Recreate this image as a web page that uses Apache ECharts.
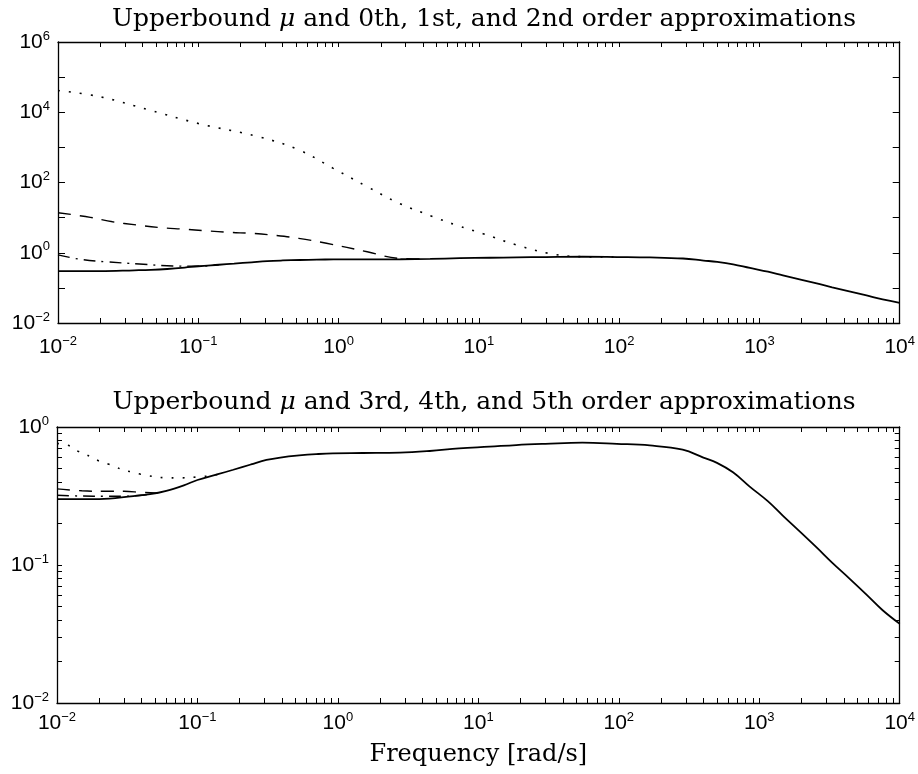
<!DOCTYPE html>
<html>
<head>
<meta charset="utf-8">
<script src="https://cdn.jsdelivr.net/npm/echarts@6.0.0/dist/echarts.min.js"></script>
<style>
  html, body { margin: 0; padding: 0; background: #fff; }
  #chart { width: 918px; height: 774px; }
</style>
</head>
<body>
<div id="chart"></div>
<script>
// ---- axis ticks ----
const freqDecades = [0.01, 0.1, 1, 10, 100, 1000, 10000];
const minorSteps = [2, 3, 4, 5, 6, 7, 8, 9];
const topMagTicks = [1e-2, 1e-1, 1, 1e1, 1e2, 1e3, 1e4, 1e5, 1e6];
const topMagLabels = [1e-2, 1, 1e2, 1e4, 1e6];
const botMagDecades = [0.01, 0.1, 1];

const titleTop = 'Upperbound {i|\u03bc} and 0th, 1st, and 2nd order approximations';
const titleBot = 'Upperbound {i|\u03bc} and 3rd, 4th, and 5th order approximations';
const xName = 'Frequency [rad/s]';

// ---- upper bound mu (solid, both panels) ----
const muFreq = [0.01, 0.02, 0.035, 0.046, 0.06, 0.08, 0.1, 0.14, 0.18, 0.24, 0.31, 0.4, 0.53, 0.7, 0.92,
  1.5, 2.76, 4.5, 7.3, 12, 18.6, 30, 55, 97, 166, 285, 400, 500, 650, 855, 1150, 1470, 2000, 2560,
  3300, 4370, 5800, 7560, 10000];
const muVals = [0.300, 0.300, 0.316, 0.326, 0.345, 0.378, 0.413, 0.455, 0.49, 0.535, 0.577, 0.603, 0.622,
  0.636, 0.645, 0.648, 0.652, 0.67, 0.70, 0.72, 0.74, 0.755, 0.77, 0.755, 0.735, 0.685, 0.6, 0.55,
  0.47, 0.37, 0.29, 0.228, 0.17, 0.134, 0.104, 0.08, 0.061, 0.047, 0.0375];

// ---- 0th, 1st, 2nd order (top) ----
const ord0Freq = [0.01, 0.02, 0.045, 0.1, 0.27, 0.52, 0.91, 1.6, 2.7, 4.7, 7, 10.7, 18.6, 31.6, 50, 97];
const ord0Vals = [41700, 27500, 11500, 4800, 2000, 850, 257, 76, 25.7, 10.7, 6.0, 3.5, 1.66, 0.96, 0.78, 0.755];
const ord1Freq = [0.01, 0.017, 0.0245, 0.036, 0.054, 0.078, 0.115, 0.166, 0.245, 0.36, 0.52, 0.82, 1.6, 2.7, 4];
const ord1Vals = [13.8, 10.2, 7.6, 6.2, 5.2, 4.7, 4.2, 3.8, 3.55, 3.1, 2.57, 1.86, 1.07, 0.69, 0.665];
const ord2Freq = [0.01, 0.0144, 0.0224, 0.038, 0.066, 0.1, 0.14];
const ord2Vals = [0.87, 0.65, 0.55, 0.48, 0.42, 0.415, 0.455];

// ---- 3rd, 4th, 5th order (bottom) ----
const ord3Freq = [0.01, 0.0124, 0.0139, 0.0158, 0.0178, 0.0202, 0.0231, 0.0263, 0.0295, 0.0342, 0.039,
  0.0445, 0.0515, 0.0587, 0.075, 0.104, 0.13, 0.16];
const ord3Vals = [0.76, 0.728, 0.673, 0.637, 0.60, 0.564, 0.54, 0.513, 0.488, 0.472, 0.456, 0.444, 0.434,
  0.429, 0.428, 0.436, 0.447, 0.47];
const ord4Freq = [0.01, 0.015, 0.022, 0.03, 0.04, 0.05, 0.06];
const ord4Vals = [0.356, 0.345, 0.342, 0.342, 0.336, 0.333, 0.345];
const ord5Freq = [0.01, 0.015, 0.022, 0.03, 0.04, 0.046];
const ord5Vals = [0.32, 0.316, 0.315, 0.315, 0.32, 0.326];

const black = '#000';

function pairs(xs, ys) {
  return xs.map((x, i) => [x, ys[i]]);
}
// decades plus the 2..9 steps inside each decade
function withMinors(decades) {
  const out = decades.slice();
  decades.slice(0, -1).forEach(d => {
    minorSteps.forEach(k => out.push(+(k * d).toPrecision(6)));
  });
  return out.sort((a, b) => a - b);
}
function powLabel(v) {
  const e = Math.round(Math.log10(v));
  return '{b|10}{s|' + (e < 0 ? '\u2212' + (-e) : e) + '}';
}
const labelRich = {
  b: { fontFamily: 'Liberation Sans', fontSize: 21, color: black },
  s: { fontFamily: 'Liberation Sans', fontSize: 13, color: black, padding: [0, 0, 12, 0] }
};

const frameLine = { show: true, onZero: false, lineStyle: { color: black, width: 1.3 } };

// one axis per side of each panel: border line, inward ticks, optional labels
function frameAxis(opt) {
  return Object.assign({
    type: 'log',
    axisLine: frameLine,
    axisLabel: { show: false },
    splitLine: { show: false }
  }, opt);
}
function tickSet(values, len) {
  return { show: true, inside: true, length: len, customValues: values, lineStyle: { color: black } };
}

const xAxis = [];
const yAxis = [];
const xIdx = [];
const yIdx = [];
const xTicks = withMinors(freqDecades);

[0, 1].forEach(g => {
  xIdx.push(xAxis.length);
  xAxis.push(frameAxis({
    gridIndex: g, min: 0.01, max: 10000, position: 'bottom',
    axisTick: tickSet(xTicks, 5),
    axisLabel: { show: true, customValues: freqDecades, formatter: powLabel, rich: labelRich, margin: g ? 8 : 12 },
    name: g ? xName : '',
    nameLocation: 'middle',
    nameGap: 40,
    nameTextStyle: { fontFamily: 'DejaVu Serif', fontSize: 24, color: black }
  }));
  xAxis.push(frameAxis({ gridIndex: g, min: 0.01, max: 10000, position: 'top', axisTick: tickSet(xTicks, 5) }));

  const yMax = g ? 1 : 1e6;
  const yTicks = g ? withMinors(botMagDecades) : topMagTicks;
  const labels = g ? botMagDecades : topMagLabels;
  yIdx.push(yAxis.length);
  yAxis.push(frameAxis({
    gridIndex: g, min: 0.01, max: yMax, position: 'left',
    axisTick: tickSet(yTicks, g ? 5 : 7),
    axisLabel: { show: true, customValues: labels, formatter: powLabel, rich: labelRich, margin: 8 }
  }));
  yAxis.push(frameAxis({ gridIndex: g, min: 0.01, max: yMax, position: 'right', axisTick: tickSet(yTicks, g ? 5 : 7) }));
});

function line(g, xs, ys, type, width, z) {
  return {
    type: 'line',
    xAxisIndex: xIdx[g],
    yAxisIndex: yIdx[g],
    data: pairs(xs, ys),
    symbol: 'none',
    smooth: 0.4,
    silent: true,
    z: z,
    lineStyle: { color: black, width: width, type: type }
  };
}
const dotted = [2, 9];
const dashed = [13, 9];
const dashDot = [12, 6, 2, 6];

const titleStyle = {
  fontFamily: 'DejaVu Serif', fontSize: 25, fontWeight: 'normal', color: black,
  rich: { i: { fontFamily: 'DejaVu Serif', fontSize: 25, fontStyle: 'italic', color: black } }
};

const chart = echarts.init(document.getElementById('chart'));
chart.setOption({
  animation: false,
  backgroundColor: '#fff',
  title: [
    { text: titleTop, left: 479, top: 2, textAlign: 'center', textStyle: titleStyle },
    { text: titleBot, left: 479, top: 385, textAlign: 'center', textStyle: titleStyle }
  ],
  grid: [
    { left: 58, right: 17, top: 42, height: 281 },
    { left: 57, right: 18, top: 427, height: 276 }
  ],
  xAxis: xAxis,
  yAxis: yAxis,
  series: [
    line(0, ord0Freq, ord0Vals, dotted, 1.6, 2),
    line(0, ord1Freq, ord1Vals, dashed, 1.4, 2),
    line(0, ord2Freq, ord2Vals, dashDot, 1.4, 2),
    line(0, muFreq, muVals, 'solid', 1.8, 3),
    line(1, ord3Freq, ord3Vals, dotted, 1.6, 2),
    line(1, ord4Freq, ord4Vals, dashed, 1.4, 2),
    line(1, ord5Freq, ord5Vals, dashDot, 1.4, 2),
    line(1, muFreq, muVals, 'solid', 1.8, 3)
  ]
});
</script>
</body>
</html>
